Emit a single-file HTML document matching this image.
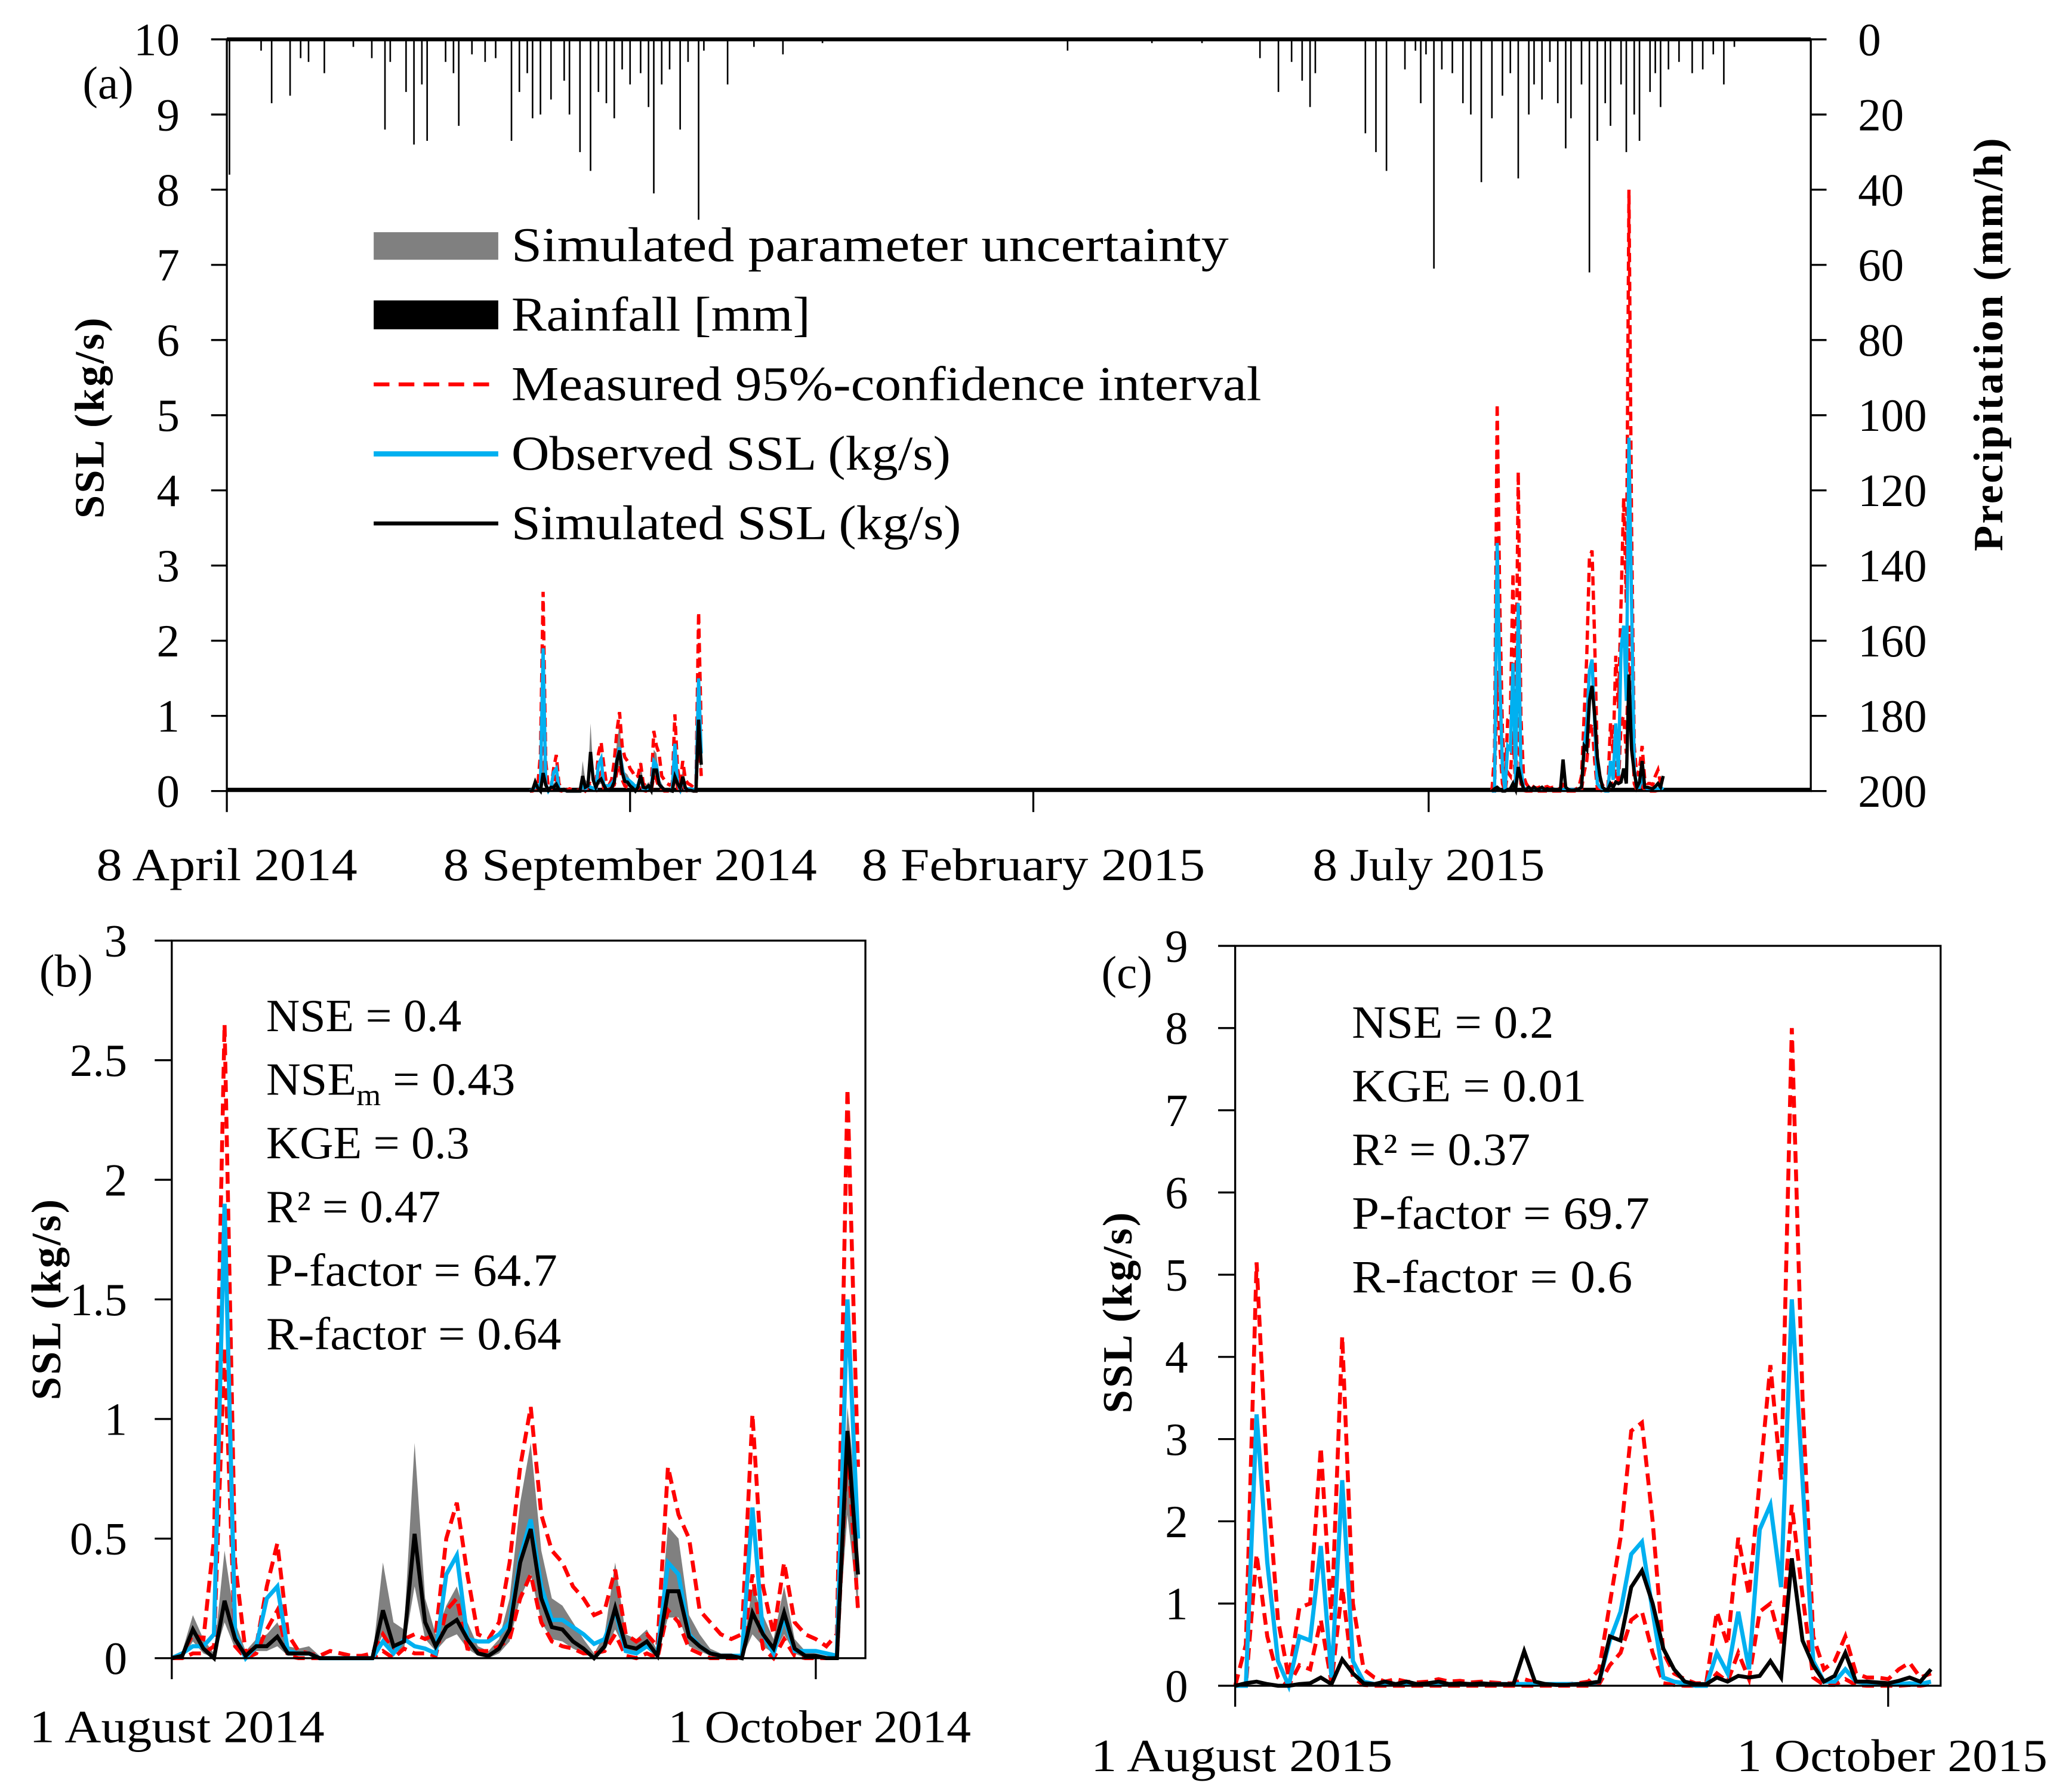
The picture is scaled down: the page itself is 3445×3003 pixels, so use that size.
<!DOCTYPE html>
<html><head><meta charset="utf-8"><title>SSL chart</title>
<style>
html,body{margin:0;padding:0;background:#fff;}
svg{display:block;font-family:"Liberation Serif",serif;}
.tk{font-size:35px;fill:#000;}
.st{font-size:35px;fill:#000;}
.ttl{font-size:32px;font-weight:bold;fill:#000;letter-spacing:1.5px;}
</style></head>
<body>
<svg id="chart" width="3445" height="3003" viewBox="0 0 1568 1366" preserveAspectRatio="none" xmlns="http://www.w3.org/2000/svg">
<g id="gA"></g>
<g id="gB"></g>
<g id="gC"></g>
</svg>
<script>
// ---------- data ----------
const bObs=[0,0.02,0.05,0.05,0.1,1.9,0.1,0,0.05,0.25,0.3,0.03,0.02,0.02,0,0,0,0,0,0,0.07,0.02,0.08,0.05,0.04,0.02,0.35,0.43,0.08,0.07,0.07,0.1,0.15,0.42,0.58,0.3,0.16,0.16,0.13,0.1,0.06,0.08,0.2,0.03,0.02,0.05,0.02,0.4,0.35,0.1,0.05,0.02,0.01,0.01,0.01,0.63,0.1,0.02,0.17,0.03,0.03,0.03,0.02,0.01,1.5,0.5];
const bSim=[0,0.01,0.12,0.04,0,0.24,0.08,0.01,0.05,0.05,0.09,0.02,0.02,0.02,0,0,0,0,0,0,0.2,0.05,0.07,0.52,0.15,0.05,0.13,0.16,0.08,0.02,0.01,0.04,0.12,0.4,0.54,0.25,0.13,0.12,0.07,0.04,0,0.05,0.21,0.05,0.04,0.07,0.01,0.28,0.28,0.09,0.05,0.02,0.01,0.01,0,0.19,0.1,0.04,0.19,0.04,0.01,0.01,0,0,0.95,0.35];
const bGreyUp=[0.01,0.03,0.18,0.08,0.02,0.45,0.15,0.03,0.08,0.1,0.15,0.05,0.04,0.05,0.01,0,0,0,0,0,0.4,0.15,0.12,0.9,0.25,0.1,0.22,0.3,0.15,0.05,0.03,0.08,0.25,0.65,0.9,0.45,0.25,0.22,0.15,0.08,0.02,0.1,0.4,0.1,0.08,0.12,0.03,0.55,0.5,0.18,0.1,0.04,0.02,0.02,0.01,0.3,0.18,0.08,0.3,0.08,0.03,0.02,0.01,0.01,1.05,0.6];
const bGreyLo=[0,0,0.07,0.02,0,0.15,0.04,0,0.03,0.03,0.05,0.01,0.01,0.01,0,0,0,0,0,0,0.1,0.02,0.04,0.3,0.08,0.03,0.08,0.1,0.04,0.01,0,0.02,0.07,0.25,0.35,0.15,0.08,0.07,0.04,0.02,0,0.03,0.12,0.03,0.02,0.04,0,0.17,0.17,0.05,0.03,0.01,0,0,0,0.1,0.05,0.02,0.1,0.02,0,0,0,0,0.6,0.2];
const bRedUp=[0,0.02,0.1,0.08,0.5,2.65,0.4,0.02,0.05,0.3,0.48,0.1,0.03,0.02,0.01,0.03,0.02,0.01,0.01,0.02,0.1,0.03,0.08,0.1,0.08,0.1,0.5,0.65,0.35,0.1,0.08,0.15,0.4,0.8,1.05,0.6,0.45,0.4,0.3,0.25,0.18,0.2,0.37,0.1,0.07,0.1,0.05,0.8,0.6,0.5,0.2,0.15,0.1,0.08,0.1,1.02,0.3,0.1,0.4,0.15,0.1,0.08,0.05,0.1,2.38,0.8];
const bRedLo=[0,0,0.02,0.02,0.05,1.3,0.05,0,0.02,0.12,0.2,0.01,0,0,0,0,0,0,0,0,0.03,0,0.04,0.02,0.02,0.01,0.2,0.25,0.04,0.03,0.03,0.05,0.08,0.25,0.35,0.15,0.07,0.05,0.04,0.02,0.02,0.03,0.1,0.01,0,0.02,0,0.2,0.15,0.04,0.02,0,0,0,0,0.35,0.04,0,0.08,0.01,0,0,0,0,0.9,0.2];
const cObs=[0,0,3.3,1.5,0.3,0,0.6,0.55,1.7,0.1,2.5,0.3,0.05,0.02,0.02,0.02,0.02,0.02,0.02,0.02,0.02,0.02,0.02,0.02,0.02,0.02,0.02,0.02,0.02,0.02,0.02,0.02,0.02,0.02,0.05,0.55,0.9,1.6,1.75,0.9,0.1,0.05,0.03,0,0,0.4,0.15,0.9,0.2,1.9,2.2,1.2,4.7,2.5,0.3,0.05,0.05,0.2,0.05,0.03,0.03,0.02,0.02,0.03,0.02,0.05];
const cSim=[0,0.03,0.05,0.02,0,0,0.02,0.03,0.1,0.02,0.32,0.15,0.03,0.02,0.05,0.02,0.05,0.02,0.03,0.05,0.02,0.03,0.02,0.03,0.02,0.02,0.02,0.42,0.05,0.02,0.01,0.01,0.02,0.03,0.05,0.6,0.55,1.2,1.4,1.0,0.45,0.2,0.05,0.02,0.02,0.1,0.05,0.12,0.1,0.12,0.3,0.1,1.55,0.55,0.25,0.05,0.12,0.4,0.05,0.05,0.04,0.03,0.06,0.1,0.05,0.2];
const cRedUp=[0,0.5,5.15,2.5,0.8,0.1,0.95,1.0,2.9,0.8,4.25,1.0,0.2,0.1,0.05,0.08,0.05,0.04,0.05,0.08,0.05,0.06,0.04,0.05,0.04,0.03,0.03,0.08,0.04,0.02,0.02,0.02,0.03,0.05,0.2,1.0,1.8,3.1,3.2,2.0,0.4,0.15,0.08,0.03,0.03,0.9,0.5,1.8,1.1,2.5,3.9,2.5,8.0,3.5,0.6,0.2,0.3,0.6,0.15,0.1,0.1,0.08,0.2,0.28,0.1,0.15];
const cRedLo=[0,0,1.6,0.6,0.1,0,0.25,0.2,0.8,0.03,1.2,0.1,0.01,0,0,0,0,0,0,0,0,0,0,0,0,0,0,0,0,0,0,0,0,0,0.02,0.25,0.4,0.8,0.9,0.4,0.03,0.01,0,0,0,0.15,0.05,0.4,0.08,0.9,1.0,0.5,2.2,1.1,0.1,0.01,0.01,0.08,0.01,0,0,0,0,0.01,0,0.02];
const rainDay=[1,13,17,24,28,31,37,48,55,60,62,68,71,74,76,83,86,88,93,98,102,108,111,114,116,119,123,128,130,134,138,141,144,147,150,153,157,160,162,165,168,172,175,179,181,190,200,211,226,319,351,370,392,399,404,408,411,413,432,436,440,447,451,453,455,458,461,465,469,472,476,480,484,487,490,494,496,499,502,505,508,510,514,517,520,523,525,529,531,534,536,540,542,544,547,551,556,560,564,568,572];
const rainMM=[36,3,17,15,5,6,9,2,5,24,6,14,28,12,27,6,9,23,4,6,5,27,14,9,21,20,16,11,20,30,35,14,17,21,8,12,9,18,41,12,8,24,6,48,3,12,2,4,1,3,1,1,5,14,6,11,18,9,25,30,35,8,3,17,4,61,8,9,17,20,38,21,15,9,37,20,12,16,6,17,29,21,12,62,27,17,23,12,30,20,27,14,9,18,8,6,9,8,4,12,2];
const aLeftTicks=[0,1,2,3,4,5,6,7,8,9,10];
const aRightTicks=[0,20,40,60,80,100,120,140,160,180,200];
const aDateTicks=["8 April 2014","8 September 2014","8 February 2015","8 July 2015"];
const aDateDays=[0,153,306,456];
const bTicks=[0,0.5,1,1.5,2,2.5,3];
const cTicks=[0,1,2,3,4,5,6,7,8,9];
const bDateTicks=["1 August 2014","1 October 2014"];
const cDateTicks=["1 August 2015","1 October 2015"];
const zoomDates=[0,61];
const bOffset=115, cOffset=480;

// ---------- style (text widths) ----------
const aDateW=[199,285,262,177];
const legendW=[547,228,572,335,343];
const bDateW=[225,231], cDateW=[230,237];
const bStatW=[149,190,155,133,222,225], cStatW=[154,179,136,227,214];

// ---------- helpers ----------
const NS="http://www.w3.org/2000/svg";
function mk(parent,tag,attrs,txt){const e=document.createElementNS(NS,tag);for(const k in attrs)e.setAttribute(k,attrs[k]);if(txt!==undefined)e.textContent=txt;parent.appendChild(e);return e;}
function pathFrom(arr,x,y,off){return arr.map((v,i)=>(i?'L':'M')+x(i+off).toFixed(2)+' '+y(v).toFixed(2)).join(' ');}
function band(up,lo,x,y,off){let d=up.map((v,i)=>(i?'L':'M')+x(i+off).toFixed(2)+' '+y(v).toFixed(2)).join(' ');for(let i=lo.length-1;i>=0;i--)d+=' L'+x(i+off).toFixed(2)+' '+y(lo[i]).toFixed(2);return d+' Z';}

// ---------- panel a ----------
(function(){
const g=document.getElementById('gA');
const L=173,R=1381,T=30,B=603,D=601;
const x=d=>L+(R-L)*d/D;
const y=v=>B-(B-T)*v/10;
const yr=mm=>T+(B-T)*mm/200;
rainDay.forEach((d,i)=>{const l=mk(g,'line',{x1:x(d),x2:x(d),y1:T,y2:yr(rainMM[i]),stroke:'#000','stroke-width':1.2});

});
const z=mk(g,'line',{x1:L,x2:R,y1:B-1,y2:B-1,stroke:'#000','stroke-width':3});

[[bOffset,bGreyUp,bGreyLo,bRedUp,bRedLo,bObs,bSim],[cOffset,null,null,cRedUp,cRedLo,cObs,cSim]].forEach(s=>{
 const off=s[0];
 if(s[1]){const p=mk(g,'path',{d:band(s[1],s[2],x,y,off),fill:'#808080'});}
 [s[3],s[4]].forEach(a=>{const p=mk(g,'path',{d:pathFrom(a,x,y,off),fill:'none',stroke:'#ff0000','stroke-width':2.5,'stroke-dasharray':'7 4'});});
 const o=mk(g,'path',{d:pathFrom(s[5],x,y,off),fill:'none',stroke:'#00b0f0','stroke-width':2.5});
 const m=mk(g,'path',{d:pathFrom(s[6],x,y,off),fill:'none',stroke:'#000','stroke-width':2.5});
});
mk(g,'rect',{x:L,y:T,width:R-L,height:B-T,fill:'none',stroke:'#000','stroke-width':1.5});
mk(g,'line',{x1:L,x2:R,y1:T,y2:T,stroke:'#000','stroke-width':3});
aLeftTicks.forEach(v=>{mk(g,'line',{x1:L-12,x2:L,y1:y(v),y2:y(v),stroke:'#000','stroke-width':1.5});
 const t=mk(g,'text',{x:L-36,y:y(v)+12,'text-anchor':'end',class:'tk'},String(v));});
aRightTicks.forEach(v=>{mk(g,'line',{x1:R,x2:R+12,y1:yr(v),y2:yr(v),stroke:'#000','stroke-width':1.5});
 const t=mk(g,'text',{x:R+36,y:yr(v)+12,'text-anchor':'start',class:'tk'},String(v));});
aDateDays.forEach((d,i)=>{mk(g,'line',{x1:x(d),x2:x(d),y1:B,y2:B+16,stroke:'#000','stroke-width':1.5});
 const t=mk(g,'text',{x:x(d),y:671,'text-anchor':'middle',class:'tk',textLength:aDateW[i],lengthAdjust:'spacingAndGlyphs'},aDateTicks[i]);});
const lab=mk(g,'text',{x:63,y:75,class:'tk'},'(a)');
const yt=mk(g,'text',{x:0,y:0,transform:'translate(79,318) rotate(-90)','text-anchor':'middle',class:'ttl'},'SSL (kg/s)');
const pt=mk(g,'text',{x:0,y:0,transform:'translate(1527,262) rotate(-90)','text-anchor':'middle',class:'ttl'},'Precipitation (mm/h)');
const lg=mk(g,'g',{});
const rows=['Simulated parameter uncertainty','Rainfall [mm]','Measured 95%-confidence interval','Observed SSL (kg/s)','Simulated SSL (kg/s)'];
const ry=[187,240,293,346,399];
mk(lg,'rect',{x:285,y:177,width:95,height:21,fill:'#808080'});
mk(lg,'rect',{x:285,y:229,width:95,height:22,fill:'#000'});
mk(lg,'line',{x1:285,x2:380,y1:293,y2:293,stroke:'#ff0000','stroke-width':3,'stroke-dasharray':'12 7'});
mk(lg,'line',{x1:285,x2:380,y1:346,y2:346,stroke:'#00b0f0','stroke-width':4});
mk(lg,'line',{x1:285,x2:380,y1:399,y2:399,stroke:'#000','stroke-width':3});
rows.forEach((r,i)=>{const t=mk(lg,'text',{x:390,y:ry[i]+12,style:'font-size:37px',textLength:legendW[i],lengthAdjust:'spacingAndGlyphs'},r);});
})();

// ---------- zoom panels ----------
function zoomPanel(gid,L,R,T,B,D,ymax,ticks,obs,sim,gu,gl,ru,rl,dates,dateW,dateCx,labTxt,labX,labY,lblX,titleX,titleY,dateY,stats,statW,statX,statY0){
const g=document.getElementById(gid);
const x=d=>L+(R-L)*d/D;
const y=v=>B-(B-T)*v/ymax;
if(gu){const p=mk(g,'path',{d:band(gu,gl,x,y,0),fill:'#808080'});}
[ru,rl].forEach(a=>{const p=mk(g,'path',{d:pathFrom(a,x,y,0),fill:'none',stroke:'#ff0000','stroke-width':3,'stroke-dasharray':'9 5'});});
const o=mk(g,'path',{d:pathFrom(obs,x,y,0),fill:'none',stroke:'#00b0f0','stroke-width':3.2});
const m=mk(g,'path',{d:pathFrom(sim,x,y,0),fill:'none',stroke:'#000','stroke-width':3});
mk(g,'rect',{x:L,y:T,width:R-L,height:B-T,fill:'none',stroke:'#000','stroke-width':1.5});
ticks.forEach(v=>{mk(g,'line',{x1:L-13,x2:L,y1:y(v),y2:y(v),stroke:'#000','stroke-width':1.5});
 const t=mk(g,'text',{x:lblX,y:y(v)+12,'text-anchor':'end',class:'tk'},String(v));});
zoomDates.forEach((d,i)=>{mk(g,'line',{x1:x(d),x2:x(d),y1:B,y2:B+16,stroke:'#000','stroke-width':1.5});
 const t=mk(g,'text',{x:dateCx[i],y:dateY,'text-anchor':'middle',class:'tk',textLength:dateW[i],lengthAdjust:'spacingAndGlyphs'},dates[i]);});
const lab=mk(g,'text',{x:labX,y:labY,class:'tk'},labTxt);
const yt=mk(g,'text',{x:0,y:0,transform:'translate('+titleX+','+titleY+') rotate(-90)','text-anchor':'middle',class:'ttl'},'SSL (kg/s)');
stats.forEach((s,i)=>{const t=mk(g,'text',{x:statX,y:statY0+i*48.5,class:'st',textLength:statW[i],lengthAdjust:'spacingAndGlyphs'});t.innerHTML=s;});
}
zoomPanel('gB',131,660,717,1264,65.7,3,bTicks,bObs,bSim,bGreyUp,bGreyLo,bRedUp,bRedLo,bDateTicks,bDateW,[135,625],'(b)',30,752,97,46,990,1328,
 ['NSE = 0.4','NSE<tspan font-size="23" dy="8">m</tspan><tspan dy="-8"> = 0.43</tspan>','KGE = 0.3','R² = 0.47','P-factor = 64.7','R-factor = 0.64'],bStatW,203,786);
zoomPanel('gC',942,1480,721,1285,65.9,9,cTicks,cObs,cSim,null,null,cRedUp,cRedLo,cDateTicks,cDateW,[947,1443],'(c)',840,753,906,863,1000,1350,
 ['NSE = 0.2','KGE = 0.01','R² = 0.37','P-factor = 69.7','R-factor = 0.6'],cStatW,1031,791);
</script>
</body></html>
